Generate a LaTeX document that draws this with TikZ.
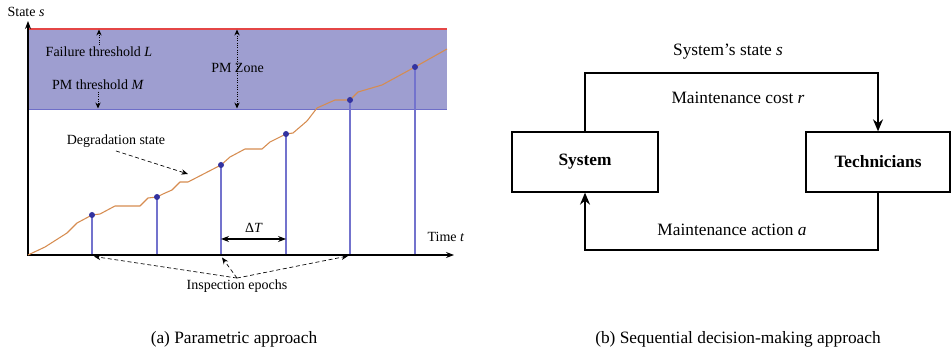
\documentclass[tikz,border=0pt]{standalone}
\usepackage{fontspec}
\setmainfont{Liberation Serif}
\usetikzlibrary{arrows.meta}

\definecolor{zonefill}{RGB}{158,158,208}
\definecolor{zoneline}{RGB}{110,110,200}
\definecolor{failred}{RGB}{228,70,70}
\definecolor{degorange}{RGB}{214,140,80}
\definecolor{epochblue}{RGB}{115,115,205}
\definecolor{dotblue}{RGB}{50,50,160}

\tikzset{
	axis/.style={line width=0.9pt, -{Stealth[length=6pt, width=4.5pt]}},
	dotarrow/.style={densely dotted, line width=0.75pt, -{Stealth[length=4.5pt, width=4pt]}},
	dasharrow/.style={densely dashed, line width=0.5pt, -{Stealth[length=5pt, width=4pt]}},
	plottext/.style={font=\fontsize{10.5}{12}\selectfont, inner sep=1pt},
	flowtext/.style={font=\fontsize{13}{15}\selectfont, inner sep=1pt},
	blockbox/.style={draw, line width=1pt, minimum height=45pt, font=\fontsize{13}{15}\selectfont\bfseries},
	flow/.style={line width=1pt, -{Stealth[length=9pt, width=7.5pt]}}
}

\begin{document}
\begin{tikzpicture}[x=0.75pt, y=-0.75pt]
		\useasboundingbox (0, 0) rectangle (952, 352);
		% the PM zone
		\fill[zonefill] (28, 29) rectangle (447, 109);
		\draw[zoneline, line width=0.7pt] (28, 109) -- (447, 109);
		\draw[failred, line width=0.9pt] (28, 29) -- (447, 29);
		% vertical line
		\draw[axis] (28, 256) -- (28, 21);
		\node[plottext, anchor=west] (stlabel) at (6, 12) {State \textit{s}};
		% horizontal line
		\draw[axis] (27.5, 255) -- (454, 255);
		\node[plottext] (tlabel) at (446, 237) {Time \textit{t}};
		% thresholds
		\node[plottext] (fail) at (99, 52) {Failure threshold \textit{L}};
		\node[plottext] (pmth) at (98, 85) {PM threshold \textit{M}};
		\draw[dotarrow] (fail.north) -- (fail.north |- 0, 29.5);
		\draw[dotarrow] (pmth.south) -- (pmth.south |- 0, 108.5);
		\node[plottext] (zone) at (237.5, 68) {PM Zone};
		\draw[dotarrow, {Stealth[length=4.5pt, width=4pt]}-{Stealth[length=4.5pt, width=4pt]}] (237, 29.5) -- (237, 108.5);
		% degradation path
		\draw[degorange, line width=0.8pt, line join=round] (28, 255) -- (45, 247) -- (67, 233) -- (77, 223)
			-- (92, 215) -- (100, 214) -- (115, 206) -- (140, 206) -- (148, 198) -- (157, 197)
			-- (163, 194) -- (172, 190) -- (180, 182) -- (188, 182) -- (221, 165) -- (230, 157)
			-- (245, 149) -- (262, 149) -- (270, 142) -- (286, 134) -- (293, 133) -- (307, 121)
			-- (317, 108) -- (335, 100) -- (350, 100) -- (358, 92) -- (382, 85) -- (415, 67) -- (447, 49);
		% inspections
		\foreach \x/\y in {92/215, 157/197, 221/165, 286/134, 350/100, 415/67} {
			\draw[epochblue, line width=0.8pt] (\x, 254.5) -- (\x, \y);
			\fill[dotblue] (\x, \y) circle (3);
		}
		\node[plottext] (deg) at (116, 141) {Degradation state};
		\coordinate (degtip) at (188, 174);
		\draw[dasharrow] (deg.south) ++(0, 2) -- (degtip);
		% interval between epochs
		\coordinate (dtl) at (221, 239);
		\coordinate (dtr) at (286, 239);
		\draw[line width=0.8pt, {Stealth[length=6pt, width=4.5pt]}-{Stealth[length=6pt, width=4.5pt]}] (dtl) -- (dtr);
		\node[plottext] (dt) at (254, 228) {Δ\textit{T}};
		\node[plottext] (insp) at (237, 286) {Inspection epochs};
		\foreach \x/\y in {94/256.5, 222/257.5, 348/256} {
			\draw[dasharrow] (insp.north) -- (\x, \y);
		}
		% decision loop
		\node[blockbox, minimum width=109.5pt] (sys) at (585, 162) {System};
		\node[blockbox, minimum width=108pt] (tech) at (878, 162) {Technicians};
		\draw[flow] (sys.north) -- (sys.north |- 0, 73) -| (tech.north);
		\draw[flow] (tech.south) -- (tech.south |- 0, 250) -| (sys.south);
		\node[flowtext] (state) at (728, 52) {System’s state \textit{s}};
		\node[flowtext] (cost) at (738, 98) {Maintenance cost \textit{r}};
		\node[flowtext] (action) at (732, 230) {Maintenance action \textit{a}};
		% captions
		\node[flowtext] (capa) at (234, 339) {(a) Parametric approach};
		\node[flowtext] (capb) at (738, 339) {(b) Sequential decision-making approach};
	\end{tikzpicture}
\end{document}
